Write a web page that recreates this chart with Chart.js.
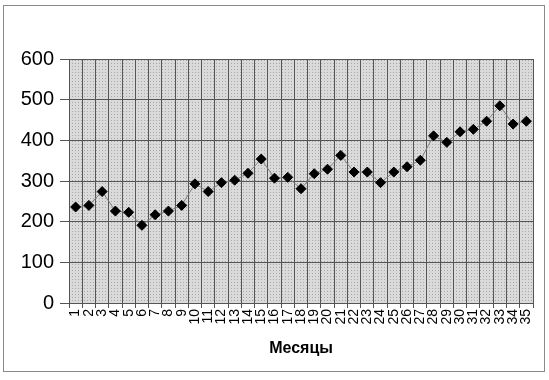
<!DOCTYPE html>
<html>
<head>
<meta charset="utf-8">
<script src="https://cdn.jsdelivr.net/npm/chart.js@4"></script>
<style>
  html, body { margin: 0; padding: 0; background: #fff; }
  #wrap { width: 549px; height: 380px; position: relative; }
</style>
</head>
<body>
<div id="wrap"><canvas id="chart" width="549" height="380"></canvas></div>
<script>
const months = [];
for (let i = 1; i <= 35; i++) months.push(String(i));
const values = [236, 240, 274, 226, 223, 191, 217, 226, 240, 293,
  274, 296, 302, 319, 354, 307, 309, 281, 318, 329,
  363, 322, 322, 296, 322, 335, 351, 411, 395, 421,
  427, 447, 485, 440, 447];
const yTicks = [0, 100, 200, 300, 400, 500, 600];
const xTitle = 'Месяцы';

// dotted grey fill of the plot area
function makePattern(ctx) {
  const c = document.createElement('canvas');
  c.width = 3; c.height = 3;
  const p = c.getContext('2d');
  p.fillStyle = '#dadada';
  p.fillRect(0, 0, 3, 3);
  p.fillStyle = '#a8a8a8';
  p.fillRect(0, 0, 1, 1);
  return ctx.createPattern(c, 'repeat');
}

const framePlugin = {
  id: 'frame',
  beforeDraw(chart) {
    const ctx = chart.ctx;
    const a = chart.chartArea;
    ctx.save();
    ctx.fillStyle = '#fff';
    ctx.fillRect(0, 0, chart.width, chart.height);
    ctx.fillStyle = makePattern(ctx);
    ctx.fillRect(a.left, a.top, a.right - a.left, a.bottom - a.top);
    ctx.strokeStyle = '#8a8a8a';
    ctx.lineWidth = 1;
    ctx.strokeRect(3.5, 5.5, 541, 366);
    ctx.restore();
  }
};

new Chart(document.getElementById('chart'), {
  type: 'line',
  data: {
    labels: months,
    datasets: [{
      data: values,
      borderColor: '#808080',
      borderWidth: 1,
      pointStyle: 'rectRot',
      pointRadius: 5,
      pointBackgroundColor: '#000',
      pointBorderColor: '#000',
      pointBorderWidth: 1,
      tension: 0
    }]
  },
  options: {
    responsive: false,
    animation: false,
    layout: { padding: { top: 59, right: 16, left: 0, bottom: 0 } },
    plugins: { legend: { display: false }, tooltip: { enabled: false } },
    scales: {
      x: {
        offset: true,
        grid: { offset: true, color: '#555', tickLength: 5, drawTicks: true },
        border: { color: '#555' },
        ticks: {
          autoSkip: false, maxRotation: 90, minRotation: 90, padding: 1,
          color: '#000', font: { family: 'Liberation Sans, Arial', size: 14 }
        },
        title: {
          display: true, text: xTitle, color: '#000',
          font: { family: 'Liberation Sans, Arial', size: 16, weight: 'bold' },
          padding: { top: 0, bottom: 22 }
        },
        afterFit(scale) { scale.height = 77; }
      },
      y: {
        min: 0, max: 600,
        afterBuildTicks(scale) { scale.ticks = yTicks.map(v => ({ value: v })); },
        grid: { color: '#555', tickLength: 9 },
        border: { color: '#555' },
        ticks: {
          padding: 6, color: '#000',
          font: { family: 'Liberation Sans, Arial', size: 20 }
        },
        afterFit(scale) { scale.width = 69; }
      }
    }
  },
  plugins: [framePlugin]
});
</script>
</body>
</html>
